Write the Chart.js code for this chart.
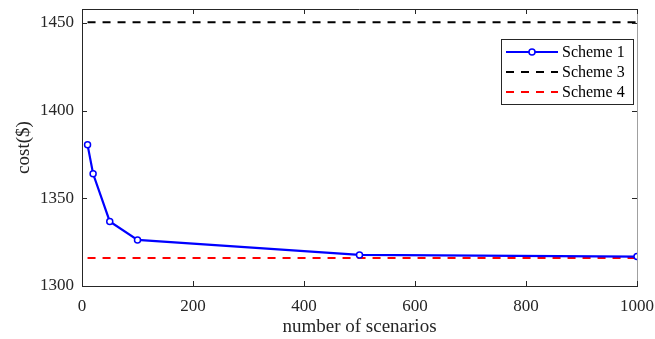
<!DOCTYPE html>
<html>
<head>
<meta charset="utf-8">
<script src="https://cdn.jsdelivr.net/npm/chart.js@4.4.1/dist/chart.umd.min.js"></script>
<style>
    html, body { margin: 0; padding: 0; background: #fff; }
    #wrap { width: 655px; height: 339px; position: relative; }
</style>
</head>
<body>
<div id="wrap"><canvas id="costChart"></canvas></div>
<script>
const scenarios = [10, 20, 50, 100, 500, 1000];
const scheme1Cost = [1380.5, 1364, 1336.8, 1326.3, 1317.7, 1316.8];
const lineSpan = [10, 1000];
const scheme3Cost = [1450.5, 1450.5];
const scheme4Cost = [1315.9, 1315.9];
const xTicks = [0, 200, 400, 600, 800, 1000];
const yTicks = [1300, 1350, 1400, 1450];
const seriesNames = ['Scheme 1', 'Scheme 3', 'Scheme 4'];

const serif = '"Liberation Serif", "Times New Roman", serif';

const toPoints = (xs, ys) => xs.map((x, i) => ({ x: x, y: ys[i] }));

// MATLAB style box: inward ticks on all sides, gray right edge, legend inside
const boxPlugin = {
    id: 'matlabBox',
    afterDatasetsDraw(chart) {
        const ctx = chart.ctx;
        const area = chart.chartArea;
        const xs = chart.scales.x;
        const ys = chart.scales.y;
        const len = 5;

        ctx.save();
        ctx.lineWidth = 1;
        ctx.strokeStyle = '#262626';
        ctx.beginPath();
        ctx.moveTo(area.left, area.top + 0.5);
        ctx.lineTo(area.right, area.top + 0.5);
        ctx.stroke();

        ctx.strokeStyle = '#a0a0a0';
        ctx.beginPath();
        ctx.moveTo(area.right + 0.5, area.top);
        ctx.lineTo(area.right + 0.5, area.bottom);
        ctx.stroke();

        ctx.strokeStyle = '#262626';
        ctx.beginPath();
        xs.ticks.forEach(t => {
            const px = Math.round(xs.getPixelForValue(t.value)) + 0.5;
            ctx.moveTo(px, area.bottom);
            ctx.lineTo(px, area.bottom - len);
            ctx.moveTo(px, area.top);
            ctx.lineTo(px, area.top + len);
        });
        ys.ticks.forEach(t => {
            const py = Math.round(ys.getPixelForValue(t.value)) + 0.5;
            ctx.moveTo(area.left, py);
            ctx.lineTo(area.left + len, py);
            ctx.moveTo(area.right, py);
            ctx.lineTo(area.right - len, py);
        });
        ctx.stroke();

        // legend
        const lx = 501, ly = 39, lw = 132, lh = 65;
        ctx.fillStyle = '#fff';
        ctx.fillRect(lx, ly, lw, lh);
        ctx.strokeStyle = '#262626';
        ctx.strokeRect(lx + 0.5, ly + 0.5, lw, lh);
        ctx.font = '16px ' + serif;
        ctx.textBaseline = 'middle';
        chart.data.datasets.forEach((ds, i) => {
            const y = ly + 13 + i * 20;
            ctx.strokeStyle = ds.borderColor;
            ctx.lineWidth = ds.borderWidth;
            ctx.setLineDash(ds.borderDash || []);
            ctx.beginPath();
            ctx.moveTo(lx + 5, y);
            ctx.lineTo(lx + 57, y);
            ctx.stroke();
            ctx.setLineDash([]);
            if (ds.pointRadius > 0) {
                ctx.beginPath();
                ctx.arc(lx + 31, y, ds.pointRadius, 0, Math.PI * 2);
                ctx.fillStyle = ds.pointBackgroundColor;
                ctx.fill();
                ctx.lineWidth = ds.pointBorderWidth;
                ctx.strokeStyle = ds.borderColor;
                ctx.stroke();
            }
            ctx.fillStyle = '#000';
            ctx.fillText(ds.label, lx + 61, y + 1);
        });
        ctx.restore();
    }
};

new Chart(document.getElementById('costChart'), {
    type: 'line',
    data: {
        datasets: [{
            label: seriesNames[0],
            data: toPoints(scenarios, scheme1Cost),
            borderColor: '#0000ff',
            borderWidth: 2.2,
            pointRadius: 3,
            pointBorderWidth: 1.5,
            pointBackgroundColor: '#ffffff',
            pointBorderColor: '#0000ff',
        }, {
            label: seriesNames[1],
            data: toPoints(lineSpan, scheme3Cost),
            borderColor: '#000000',
            borderWidth: 2,
            borderDash: [8, 7],
            pointRadius: 0,
        }, {
            label: seriesNames[2],
            data: toPoints(lineSpan, scheme4Cost),
            borderColor: '#ff0000',
            borderWidth: 2,
            borderDash: [8, 7],
            pointRadius: 0,
        }],
    },
    options: {
        responsive: true,
        maintainAspectRatio: false,
        animation: false,
        layout: { padding: { top: 9, right: 18, left: 0, bottom: 0 } },
        plugins: {
            legend: { display: false },
            tooltip: { enabled: false },
        },
        scales: {
            x: {
                type: 'linear',
                min: 0,
                max: 1000,
                afterBuildTicks: s => { s.ticks = xTicks.map(v => ({ value: v })); },
                afterFit: s => { s.height = 53; s.paddingLeft = 0; s.paddingRight = 0; },
                grid: { display: false, drawTicks: false },
                border: { display: true, color: '#262626', width: 1 },
                ticks: {
                    color: '#262626', padding: 10, maxRotation: 0,
                    font: { family: serif, size: 17 },
                    callback: v => String(v),
                },
                title: {
                    display: true,
                    text: 'number of scenarios',
                    color: '#262626',
                    padding: { top: 0, bottom: 1 },
                    font: { family: serif, size: 19 },
                },
            },
            y: {
                min: 1300,
                max: 1458,
                afterBuildTicks: s => { s.ticks = yTicks.map(v => ({ value: v })); },
                afterFit: s => { s.width = 82; s.paddingTop = 0; s.paddingBottom = 0; },
                grid: { display: false, drawTicks: false },
                border: { display: true, color: '#262626', width: 1 },
                ticks: {
                    color: '#262626', padding: 8,
                    font: { family: serif, size: 17 },
                    callback: v => String(v),
                },
                title: {
                    display: true,
                    text: 'cost($)',
                    color: '#262626',
                    padding: { top: 13, bottom: 0 },
                    font: { family: serif, size: 19 },
                },
            },
        },
    },
    plugins: [boxPlugin],
});
</script>
</body>
</html>
